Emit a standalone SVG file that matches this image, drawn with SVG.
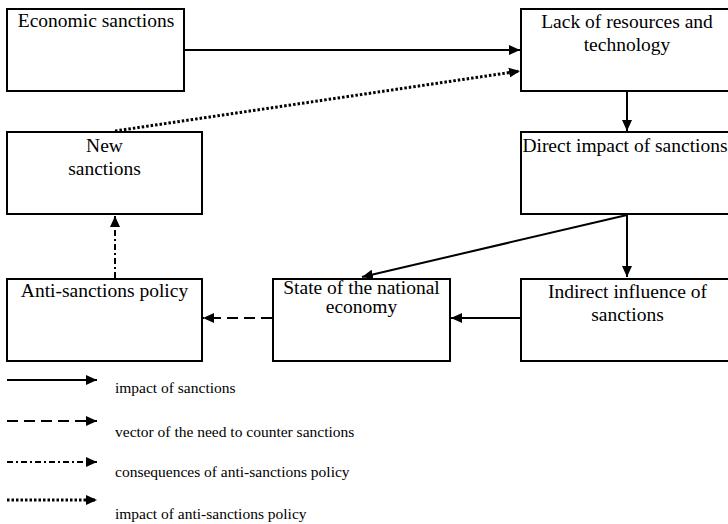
<svg xmlns="http://www.w3.org/2000/svg" width="728" height="524" viewBox="0 0 728 524">
  <style>
    .box { fill: #ffffff; stroke: #000000; stroke-width: 2; }
    .lbl { font-family: "Liberation Serif", "Times New Roman", serif; font-size: 19.5px; fill: #000000; text-anchor: middle; }
    .leg { font-family: "Liberation Serif", "Times New Roman", serif; font-size: 15.5px; fill: #000000; }
    .ln { fill: none; stroke: #000000; stroke-width: 2; }
    .dash { stroke-dasharray: 11 6; }
    .dashdot { stroke-dasharray: 6 3 2 3; }
    .dot { stroke-width: 3; stroke-dasharray: 2.5 2; }
  </style>
  <defs>
    <marker id="arr" markerUnits="userSpaceOnUse" markerWidth="12" markerHeight="12" viewBox="0 0 12 12" refX="11" refY="6" orient="auto">
      <path d="M0,1 L11,6 L0,11 Z" fill="#000000"/>
    </marker>
  </defs>

  <rect width="728" height="524" fill="#ffffff"/>

  <!-- nodes -->
  <g id="economic-sanctions">
    <rect class="box" x="7" y="9" width="177" height="82"/>
    <text class="lbl" x="96" y="27">Economic sanctions</text>
  </g>
  <g id="lack-of-resources">
    <rect class="box" x="521" y="9" width="214" height="82"/>
    <text class="lbl" x="627" y="28">Lack of resources and</text>
    <text class="lbl" x="627" y="51">technology</text>
  </g>
  <g id="new-sanctions">
    <rect class="box" x="7" y="132" width="195" height="82"/>
    <text class="lbl" x="104.5" y="152">New</text>
    <text class="lbl" x="104.5" y="175">sanctions</text>
  </g>
  <g id="direct-impact">
    <rect class="box" x="521" y="132" width="214" height="82"/>
    <text class="lbl" x="625" y="152">Direct impact of sanctions</text>
  </g>
  <g id="anti-sanctions-policy">
    <rect class="box" x="7" y="279" width="195" height="82"/>
    <text class="lbl" x="104.5" y="297">Anti-sanctions policy</text>
  </g>
  <g id="national-economy">
    <rect class="box" x="273" y="279" width="177" height="82"/>
    <text class="lbl" x="361.5" y="294">State of the national</text>
    <text class="lbl" x="361.5" y="313">economy</text>
  </g>
  <g id="indirect-influence">
    <rect class="box" x="521" y="279" width="214" height="82"/>
    <text class="lbl" x="627.5" y="298">Indirect influence of</text>
    <text class="lbl" x="627.5" y="321">sanctions</text>
  </g>

  <!-- connectors -->
  <g id="connectors">
    <line class="ln" x1="185" y1="50" x2="520" y2="50" marker-end="url(#arr)"/>
    <line class="ln dot" x1="115" y1="131" x2="520" y2="71" marker-end="url(#arr)"/>
    <line class="ln" x1="627" y1="92" x2="627" y2="131" marker-end="url(#arr)"/>
    <line class="ln" x1="627" y1="215" x2="627" y2="277" marker-end="url(#arr)"/>
    <line class="ln" x1="627" y1="215" x2="362" y2="277" marker-end="url(#arr)"/>
    <line class="ln" x1="520" y1="318" x2="451" y2="318" marker-end="url(#arr)"/>
    <line class="ln dash" x1="272" y1="318" x2="203" y2="318" marker-end="url(#arr)"/>
    <line class="ln dashdot" x1="115" y1="278" x2="115" y2="216" marker-end="url(#arr)"/>
  </g>

  <!-- legend -->
  <g id="legend">
    <line class="ln" x1="7" y1="380" x2="97" y2="380" marker-end="url(#arr)"/>
    <text class="leg" x="115" y="393">impact of sanctions</text>
    <line class="ln dash" x1="7" y1="421" x2="97" y2="421" marker-end="url(#arr)"/>
    <text class="leg" x="115" y="437">vector of the need to counter sanctions</text>
    <line class="ln dashdot" x1="7" y1="462" x2="97" y2="462" marker-end="url(#arr)"/>
    <text class="leg" x="115" y="477">consequences of anti-sanctions policy</text>
    <line class="ln dot" x1="7" y1="500" x2="97" y2="500" marker-end="url(#arr)"/>
    <text class="leg" x="115" y="519">impact of anti-sanctions policy</text>
  </g>
</svg>
